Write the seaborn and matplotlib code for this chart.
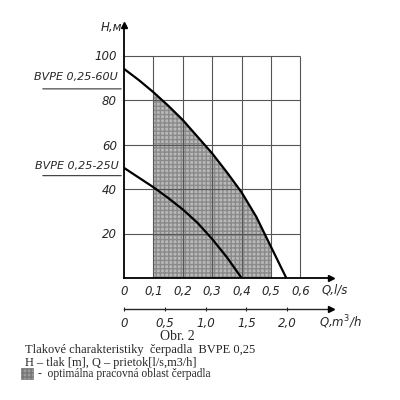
import numpy as np
import matplotlib
matplotlib.use("Agg")
import matplotlib.pyplot as plt
from matplotlib import font_manager
from matplotlib.patches import Rectangle
import seaborn as sns
import pandas as pd

# ---- data ----
q_60u = [0, 0.05, 0.10, 0.15, 0.20, 0.25, 0.30, 0.35, 0.40, 0.45, 0.50, 0.552]
h_60u = [94, 89, 83.5, 77.5, 71, 63.5, 56, 47.5, 38.5, 27.5, 14, 0]
q_25u = [0, 0.10, 0.15, 0.20, 0.25, 0.30, 0.35, 0.40]
h_25u = [49.5, 40.8, 36, 30.8, 24.8, 17.5, 9.3, 0]
q_ticks = [0, 0.1, 0.2, 0.3, 0.4, 0.5, 0.6]
q_ticklabels = ["0", "0,1", "0,2", "0,3", "0,4", "0,5", "0,6"]
h_ticks = [20, 40, 60, 80, 100]
m3h_ticks = [0, 0.5, 1.0, 1.5, 2.0]
m3h_ticklabels = ["0", "0,5", "1,0", "1,5", "2,0"]
opt_range = [0.1, 0.5]
label_60u = "BVPE 0,25-60U"
label_25u = "BVPE 0,25-25U"
label_60u_h = 85
label_25u_h = 46

sns.set_style("white")
avail = {f.name for f in font_manager.fontManager.ttflist}
narrow = [f for f in ["Liberation Sans Narrow", "DejaVu Sans"] if f in avail]
plt.rcParams["font.family"] = narrow
serif = ["Liberation Serif", "DejaVu Serif"]

W = H = 400
fig = plt.figure(figsize=(4, 4), dpi=100)
ax = fig.add_axes([124 / W, 1 - 278 / H, (331 - 124) / W, (278 - 25) / H])
xmax = (331 - 124) / 294
ymax = (278 - 25) / 2.225
ax.set_xlim(0, xmax)
ax.set_ylim(0, ymax)

# grid limited to 0.6 x 100
ax.vlines(q_ticks[1:], 0, 100, color="#555555", lw=0.8, zorder=1)
ax.hlines(h_ticks, 0, 0.6, color="#555555", lw=0.8, zorder=1)

# optimal region shading
df60 = pd.DataFrame({"Q": q_60u, "H": h_60u})
df25 = pd.DataFrame({"Q": q_25u, "H": h_25u})
fill = ax.fill_between(df60["Q"], df60["H"], 0, facecolor="#b9b9b9",
                       edgecolor="#8a8a8a", hatch="++++", lw=0, zorder=0.5)
clip = Rectangle((opt_range[0], 0), opt_range[1] - opt_range[0], 200,
                 transform=ax.transData)
fill.set_clip_path(clip)

sns.lineplot(data=df60, x="Q", y="H", ax=ax, color="black", lw=1.6, zorder=3, sort=False)
sns.lineplot(data=df25, x="Q", y="H", ax=ax, color="black", lw=1.6, zorder=3, sort=False)

for s in ["top", "right"]:
    ax.spines[s].set_visible(False)
for s in ["left", "bottom"]:
    ax.spines[s].set_linewidth(1.3)
    ax.spines[s].set_color("black")
ax.set_xlabel("")
ax.set_ylabel("")
ax.set_xticks(q_ticks)
ax.set_xticklabels(q_ticklabels, fontstyle="italic", fontsize=8.5)
ax.set_yticks([0] + h_ticks)
ax.set_yticklabels([""] + [str(v) for v in h_ticks], fontstyle="italic", fontsize=8.5)
ax.tick_params(length=0, pad=5)
ax.tick_params(axis="x", pad=5)

# arrows
ax.plot(1, 0, ">", color="black", ms=4, transform=ax.transAxes, clip_on=False)
ax.plot(0, 1, "^", color="black", ms=4, transform=ax.transAxes, clip_on=False)

# secondary axis m3/h
loc = -(309 - 278) / (278 - 25)
sec = ax.secondary_xaxis(loc, functions=(lambda q: np.asarray(q) * 3.6,
                                          lambda m: np.asarray(m) / 3.6))
sec.set_xticks(m3h_ticks)
sec.set_xticklabels(m3h_ticklabels, fontstyle="italic", fontsize=8.5)
sec.tick_params(direction="inout", length=3, width=0.8, pad=4)
sec.spines["bottom"].set_linewidth(1.0)
ax.plot(1, loc, ">", color="black", ms=4, transform=ax.transAxes, clip_on=False)

# axis labels
fig.text(111 / W, 1 - 27 / H, "H,м", fontsize=8.5, fontstyle="italic", ha="center", va="center")
fig.text(335 / W, 1 - 290 / H, "Q,l/s", fontsize=8.5, fontstyle="italic", ha="center", va="center")
fig.text(340 / W, 1 - 322 / H, "Q,m$^3$/h", fontsize=8.5, fontstyle="italic", ha="center", va="center")

# curve labels
ax.annotate("", xy=(0, label_60u_h), xytext=(40 / W, label_60u_h),
            textcoords=("figure fraction", "data"),
            arrowprops=dict(arrowstyle="-", lw=0.8, color="#333333"))
ax.annotate("", xy=(0, label_25u_h), xytext=(40 / W, label_25u_h),
            textcoords=("figure fraction", "data"),
            arrowprops=dict(arrowstyle="-", lw=0.8, color="#333333"))
fig.text(76 / W, 1 - 77 / H, label_60u, fontsize=8, fontstyle="italic", ha="center", va="center")
fig.text(77 / W, 1 - 166 / H, label_25u, fontsize=8, fontstyle="italic", ha="center", va="center")

# caption
fig.text(177 / W, 1 - 337 / H, "Obr. 2", family=serif, fontsize=10, ha="center", va="center")
fig.text(25 / W, 1 - 350 / H, "Tlakové charakteristiky  čerpadla  BVPE 0,25",
         family=serif, fontsize=9, ha="left", va="center")
fig.text(25 / W, 1 - 363 / H, "H – tlak [m], Q – prietok[l/s,m3/h]",
         family=serif, fontsize=8.8, ha="left", va="center")
fig.patches.append(Rectangle((21 / W, 1 - 379 / H), 12 / W, 11 / H,
                             transform=fig.transFigure, facecolor="#9a9a9a",
                             edgecolor="#777777", lw=0.5, hatch="++++"))
fig.text(38 / W, 1 - 374 / H, "-  optimálna pracovná oblast čerpadla",
         family=serif, fontsize=8.3, ha="left", va="center")

fig.savefig("out.png", dpi=100)
